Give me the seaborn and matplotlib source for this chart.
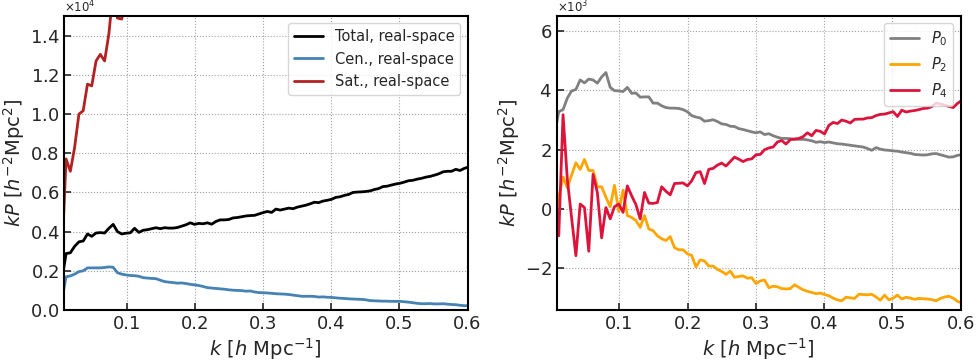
import numpy as np
import pandas as pd
import matplotlib
matplotlib.use("Agg")
import matplotlib.pyplot as plt
from matplotlib.ticker import MultipleLocator, ScalarFormatter
import seaborn as sns

# Wavenumber bins: fundamental mode of a 1000 Mpc/h box
k_fund = 2 * np.pi / 1000.0
k = k_fund * (np.arange(1, 97) - 0.25)

# Real-space kP, total / central / satellite
total_real = [1500, 2880, 2920, 3250, 3480, 3520, 3880, 3760, 3930, 3950,
              3930, 4170, 4370, 4000, 3880, 3920, 3940, 4170, 3960, 4070,
              4100, 4150, 4200, 4150, 4200, 4180, 4180, 4210, 4280, 4350,
              4450, 4370, 4420, 4400, 4450, 4380, 4520, 4600, 4600, 4620,
              4700, 4720, 4760, 4800, 4820, 4830, 4900, 4970, 5030, 4980,
              5150, 5100, 5150, 5200, 5170, 5250, 5300, 5350, 5420, 5500,
              5480, 5560, 5600, 5650, 5750, 5780, 5850, 5900, 6000, 6020,
              6030, 6050, 6080, 6150, 6200, 6300, 6320, 6380, 6430, 6470,
              6530, 6600, 6620, 6680, 6720, 6780, 6820, 6880, 6950, 7050,
              7080, 7080, 7180, 7120, 7230, 7300]
cen_real = [500, 1690, 1740, 1830, 1960, 2000, 2150, 2150, 2150, 2150,
            2170, 2200, 2180, 1900, 1830, 1790, 1760, 1750, 1720, 1650,
            1630, 1610, 1600, 1520, 1450, 1420, 1400, 1370, 1380, 1350,
            1310, 1280, 1250, 1200, 1140, 1120, 1100, 1080, 1060, 1030,
            1010, 1000, 990, 960, 970, 920, 890, 880, 870, 850,
            830, 820, 810, 790, 760, 730, 700, 700, 700, 690,
            660, 670, 650, 640, 620, 600, 590, 570, 560, 550,
            540, 520, 480, 470, 460, 450, 450, 440, 440, 440,
            420, 400, 370, 340, 320, 320, 330, 310, 310, 320,
            300, 280, 270, 240, 220, 220]
sat_real = [2600, 7710, 7080, 8300, 10000, 10170, 11530, 11440, 12710, 13050,
            12710, 14100, 16280, 14900, 14850, 16000, 17000]

# Redshift-space multipoles kP_ell
p0 = [2500, 3280, 3350, 3740, 3980, 4030, 4350, 4250, 4380, 4350,
      4240, 4450, 4600, 4100, 3990, 3980, 3960, 4100, 3900, 3910,
      3770, 3780, 3780, 3570, 3570, 3480, 3420, 3400, 3400, 3390,
      3350, 3280, 3150, 3100, 3070, 2960, 2980, 3010, 2950, 2870,
      2850, 2790, 2780, 2710, 2680, 2640, 2600, 2570, 2600, 2510,
      2540, 2470, 2420, 2380, 2380, 2370, 2350, 2350, 2350, 2330,
      2300, 2250, 2270, 2240, 2260, 2230, 2200, 2190, 2170, 2150,
      2130, 2110, 2090, 2040, 1980, 2070, 2020, 1990, 1980, 1960,
      1950, 1920, 1900, 1880, 1840, 1830, 1820, 1830, 1860, 1870,
      1830, 1790, 1750, 1760, 1810, 1830]
p2 = [-500, 400, 1080, 720, 1150, 1560, 1340, 1670, 1300, 1300,
      750, 750, 400, 80, 800, -80, 640, -220, -280, -390,
      -615, -220, -670, -730, -900, -1000, -1060, -930, -1300, -1370,
      -1370, -1510, -1560, -1950, -1710, -1750, -1920, -1920, -2030, -2100,
      -2200, -2090, -2300, -2270, -2250, -2330, -2310, -2510, -2420, -2390,
      -2650, -2600, -2620, -2680, -2690, -2680, -2550, -2640, -2720, -2770,
      -2810, -2850, -2830, -2880, -2920, -3000, -3060, -3090, -2970, -2990,
      -3010, -2870, -2880, -2890, -2870, -2960, -3070, -2900, -3060, -3000,
      -2900, -3030, -2970, -3000, -3040, -3010, -3020, -3030, -3050, -3090,
      -3010, -2960, -2940, -3000, -3110, -3160]
p4 = [900, -900, 3180, 1000, -300, -1570, 170, 50, -1420, 1170,
      560, -970, 50, -330, 80, 170, -110, 780, 450, 150,
      -335, 560, 200, 190, 220, 750, 600, 480, 860, 870,
      880, 780, 950, 1230, 1260, 860, 1340, 1370, 1480, 1550,
      1450, 1600, 1750, 1680, 1600, 1670, 1690, 1830, 1840, 2000,
      2060, 2090, 2260, 2310, 2190, 2340, 2360, 2380, 2440, 2570,
      2470, 2650, 2620, 2530, 2820, 2920, 2880, 3000, 2960, 2900,
      3020, 3030, 3030, 3070, 3080, 3150, 3190, 3200, 3240, 3280,
      3120, 3330, 3270, 3300, 3320, 3350, 3390, 3400, 3450, 3570,
      3540, 3500, 3460, 3420, 3560, 3660]

real_labels = ["Total, real-space", "Cen., real-space", "Sat., real-space"]
real_colors = ["black", "#4682b4", "#b22222"]
pole_labels = [r"$P_0$", r"$P_2$", r"$P_4$"]
pole_colors = ["grey", "orange", "crimson"]

real_df = pd.concat([
    pd.DataFrame({"k": k[:len(v)], "kP": v, "series": lab})
    for v, lab in zip([total_real, cen_real, sat_real], real_labels)
], ignore_index=True)
pole_df = pd.concat([
    pd.DataFrame({"k": k[:len(v)], "kP": v, "series": lab})
    for v, lab in zip([p0, p2, p4], pole_labels)
], ignore_index=True)

sns.set_style("white")
plt.rcParams.update({
    "font.family": ["DejaVu Sans"],
    "mathtext.fontset": "dejavusans",
    "axes.edgecolor": "black",
    "axes.linewidth": 1.5,
    "xtick.direction": "in",
    "ytick.direction": "in",
})

fig = plt.figure(figsize=(9.76, 3.61), dpi=100)
ax1 = fig.add_axes([0.0656, 0.1413, 0.4134, 0.8140])
ax2 = fig.add_axes([0.5704, 0.1413, 0.4139, 0.8140])

sns.lineplot(data=real_df, x="k", y="kP", hue="series", hue_order=real_labels,
             palette=real_colors, linewidth=2, sort=False, ax=ax1)
sns.lineplot(data=pole_df, x="k", y="kP", hue="series", hue_order=pole_labels,
             palette=pole_colors, linewidth=2, sort=False, ax=ax2)

ax1.set_ylim(0, 15000)
ax2.set_ylim(-3400, 6500)
ax1.yaxis.set_major_locator(MultipleLocator(2000))
ax2.yaxis.set_major_locator(MultipleLocator(2000))

for ax in (ax1, ax2):
    ax.set_xlim(0.008, 0.6)
    ax.xaxis.set_major_locator(MultipleLocator(0.1))
    fmt = ScalarFormatter(useMathText=True)
    fmt.set_powerlimits((0, 0))
    ax.yaxis.set_major_formatter(fmt)
    ax.yaxis.get_offset_text().set_fontsize(8.5)
    ax.tick_params(axis="both", which="major", labelsize=13, length=5,
                   width=1.2, direction="in", left=True, bottom=True,
                   top=False, right=False)
    ax.grid(True, color="#a0a0a0", linestyle=":", linewidth=0.8)
    ax.set_xlabel(r"$k\ [h\ \mathrm{Mpc}^{-1}]$", fontsize=14, labelpad=2)
    ax.set_ylabel(r"$kP\ [h^{-2}\mathrm{Mpc}^{2}]$", fontsize=14, labelpad=2)
    for s in ax.spines.values():
        s.set_visible(True)
        s.set_linewidth(1.5)
        s.set_color("black")

ax1.legend(loc="upper right", fontsize=10.5, frameon=True, handlelength=2.0)
ax2.legend(loc="upper right", fontsize=10.5, frameon=True, handlelength=2.0)

fig.savefig("out.png", dpi=100)
